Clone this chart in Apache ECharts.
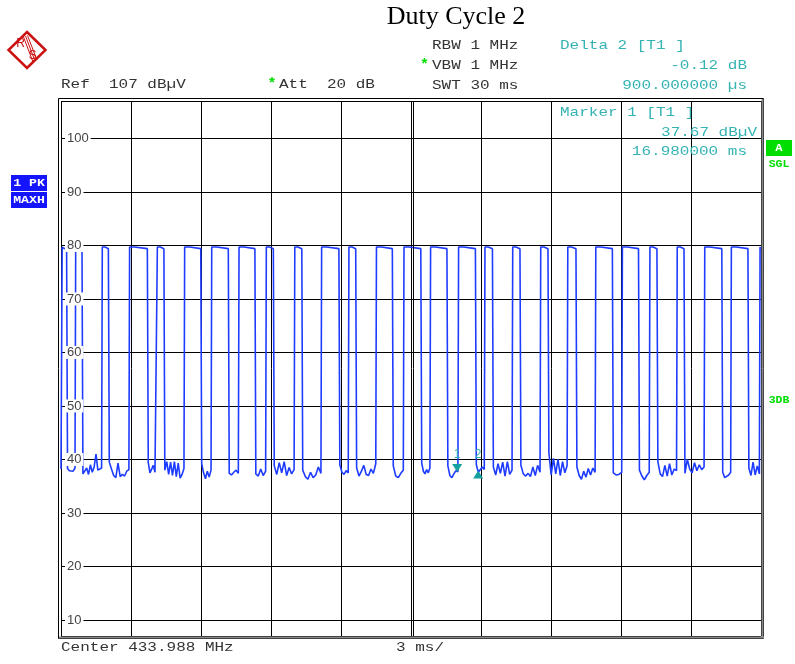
<!DOCTYPE html>
<html>
<head>
    <meta charset="UTF-8">
    <title>Duty Cycle 2</title>
    <script src="https://cdn.jsdelivr.net/npm/echarts@6/dist/echarts.min.js"></script>
    <style>
        html, body {
            margin: 0;
            padding: 0;
            background: #fff;
        }
        #chart {
            width: 795px;
            height: 664px;
        }
    </style>
</head>
<body>
<div id="chart"></div>
<script>
    // sweep 0..30 ms, 3 ms/div ; level axis 7..107 dBuV
    var sweepMs = [0, 30];
    var levelDb = [7, 107];

    // pulse edges (ms)
    var riseMs = [0.02, 0.60, 1.74, 2.91, 4.10, 5.27, 6.43, 7.60, 8.77, 9.99, 11.14, 12.31, 13.49,
        14.67, 15.81, 17.01, 18.14, 19.33, 20.53, 21.69, 22.89, 24.03, 25.21, 26.38, 27.56, 28.70, 29.93];
    var fallMs = [0.24, 0.90, 2.03, 3.70, 4.41, 5.99, 7.17, 8.31, 9.10, 10.32, 11.91, 12.63, 14.20,
        15.42, 16.54, 17.76, 18.49, 19.67, 20.87, 22.07, 23.63, 24.75, 25.54, 26.70, 28.32, 29.44, 30];
    // pulse top: level just after rising edge, then settled level
    var topLevels = [79.7, 79.4];
    var leadNoise = 38.2;
    // noise floor readings between pulse i and pulse i+1
    var gapNoise = [
        [38.3, 37.9, 38.2, 37.8, 38.4],
        [37.3, 37.0, 38.4, 37.2, 39.0, 37.6, 38.6, 41.0, 38.0, 38.2, 38.4],
        [39.5, 38.2, 37.0, 36.6, 39.3, 36.8, 37.2, 36.9, 37.8, 38.1],
        [39.4, 37.5, 37.8, 38.9, 37.6, 37.9],
        [38.0, 39.6, 37.2, 39.5, 37.0, 39.6, 36.8, 39.3, 36.5, 37.2, 38.3],
        [39.2, 37.5, 36.4, 37.8, 36.7, 38.0],
        [37.4, 37.1, 37.6, 38.0, 37.4],
        [37.3, 36.9, 38.2, 37.0, 37.8],
        [38.8, 37.2, 39.4, 37.5, 39.6, 37.0, 38.5, 37.3, 38.1],
        [38.0, 36.8, 36.3, 37.6, 36.6, 37.1, 38.6, 37.4],
        [39.0, 37.6, 37.2, 37.9, 37.5],
        [38.4, 36.9, 37.8, 38.9, 37.2, 37.0, 38.2, 37.4, 39.2],
        [38.8, 36.9, 36.6, 37.4, 38.0],
        [39.3, 37.8, 37.3, 38.1, 37.5, 38.4],
        [38.8, 37.0, 36.6, 37.3, 37.9, 37.7],
        [39.0, 37.6, 37.9, 38.6, 38.1],
        [38.6, 37.1, 39.2, 37.4, 39.5, 36.9, 39.6, 37.2, 38.0],
        [38.9, 37.3, 36.9, 37.4, 36.8, 38.6, 37.0, 38.9, 37.6],
        [41.2, 37.1, 40.2, 37.3, 40.0, 37.0, 39.6, 37.5, 38.8],
        [38.6, 37.0, 36.3, 37.8, 36.7, 38.3, 37.1, 38.4, 37.6],
        [37.5, 37.1, 37.2, 37.6],
        [38.0, 36.9, 36.2, 37.0, 37.6],
        [39.6, 37.3, 36.8, 38.9, 36.9, 39.2, 37.1, 38.2, 37.9],
        [37.4, 40.0, 38.2, 37.5, 39.4, 37.9, 39.0, 38.1, 38.6],
        [37.6, 36.6, 36.5, 37.1, 37.6],
        [38.4, 37.0, 39.5, 37.1, 38.8, 37.3]
    ];

    // markers: [ms, dBuV]
    var marker1 = [16.98, 37.67];
    var marker2 = [17.88, 37.55];

    // build the trace
    var trace = [[0, leadNoise]];
    for (var i = 0; i < riseMs.length; i++) {
        var r = riseMs[i], f = fallMs[i];
        var step = Math.min(r + 0.24, (r + f) / 2);
        trace.push([r + 0.03, topLevels[0]], [step, topLevels[0]], [step + 0.02, topLevels[1]], [f, topLevels[1]]);
        var g = gapNoise[i];
        if (g) {
            var t0 = f + 0.04, t1 = riseMs[i + 1];
            for (var k = 0; k < g.length; k++) {
                trace.push([t0 + k * (t1 - t0) / (g.length - 1), g[k]]);
            }
        }
    }

    var MONO = '"Liberation Mono", "DejaVu Sans Mono", monospace';
    var SANS = '"Liberation Sans", Arial, sans-serif';
    var GREY = '#333';
    var TEAL = '#35b3b3';
    var GREEN = '#00dd00';
    var BLUE = '#1414ff';
    var RS_RED = '#cc1111';

    function txt(x, y, s, color, o) {
        o = o || {};
        return {
            type: 'text', x: x, y: y, scaleX: o.sx || 1.23, z: 20,
            style: {
                text: s, fill: color,
                fontFamily: o.family || MONO, fontSize: o.size || 13, fontWeight: o.weight || 'normal',
                textAlign: o.align || 'left', align: o.align || 'left',
                textVerticalAlign: 'middle', verticalAlign: 'middle'
            }
        };
    }

    function box(x, y, w, h, color) {
        return {type: 'rect', z: 19, shape: {x: x, y: y, width: w, height: h}, style: {fill: color}};
    }

    var graphics = [
        // title
        txt(456, 17, 'Duty Cycle 2', '#000', {align: 'center', family: '"Liberation Serif", serif', size: 26, sx: 1}),
        // R&S logo
        {type: 'polygon', shape: {points: [[27, 32], [45.5, 50], [27, 68], [8.5, 50]]},
            style: {fill: 'none', stroke: RS_RED, lineWidth: 2.5}},
        {type: 'line', shape: {x1: 23.5, y1: 37, x2: 33, y2: 62}, style: {stroke: RS_RED, lineWidth: 1}},
        {type: 'line', shape: {x1: 25.5, y1: 36, x2: 35, y2: 61}, style: {stroke: RS_RED, lineWidth: 1}},
        {type: 'line', shape: {x1: 27.5, y1: 35.5, x2: 37, y2: 60}, style: {stroke: RS_RED, lineWidth: 1}},
        txt(20.5, 44, 'R', RS_RED, {align: 'center', family: SANS, size: 12, sx: 1}),
        txt(32.5, 56, 'S', RS_RED, {align: 'center', family: SANS, size: 12, sx: 1}),

        // header block
        txt(61, 85, 'Ref  107 dBµV', GREY),
        txt(272, 84, '*', GREEN, {align: 'center', size: 15, weight: 'bold', sx: 1}),
        txt(279, 85, 'Att  20 dB', GREY),
        txt(432, 46, 'RBW 1 MHz', GREY),
        txt(424.5, 65, '*', GREEN, {align: 'center', size: 15, weight: 'bold', sx: 1}),
        txt(432, 66, 'VBW 1 MHz', GREY),
        txt(432, 85.5, 'SWT 30 ms', GREY),
        txt(560, 46, 'Delta 2 [T1 ]', TEAL),
        txt(747, 66, '-0.12 dB', TEAL, {align: 'right'}),
        txt(747, 85.5, '900.000000 µs', TEAL, {align: 'right'}),

        // marker readout inside the screen
        txt(560, 113, 'Marker 1 [T1 ]', TEAL),
        txt(757, 132.5, '37.67 dBµV', TEAL, {align: 'right'}),
        txt(747, 151.5, '16.980000 ms', TEAL, {align: 'right'}),

        // side badges
        box(766, 140, 26, 16, GREEN),
        txt(779, 148, 'A', '#fff', {align: 'center', size: 11, weight: 'bold', sx: 1.1}),
        txt(779, 164, 'SGL', GREEN, {align: 'center', size: 10, weight: 'bold', sx: 1.15}),
        txt(779, 400, '3DB', GREEN, {align: 'center', size: 10, weight: 'bold', sx: 1.15}),
        box(11, 175, 36, 16, BLUE),
        txt(29, 183, '1 PK', '#fff', {align: 'center', size: 11, weight: 'bold', sx: 1.2}),
        box(11, 192, 36, 16, BLUE),
        txt(29, 200, 'MAXH', '#fff', {align: 'center', size: 11, weight: 'bold', sx: 1.2}),

        // footer
        txt(61, 648, 'Center 433.988 MHz', GREY),
        txt(396, 648, '3 ms/', GREY),

        // screen frame
        {type: 'rect', z: 15, shape: {x: 58.5, y: 98.5, width: 705, height: 540},
            style: {fill: 'none', stroke: '#000', lineWidth: 1}},
        {type: 'line', z: 15, shape: {x1: 762.5, y1: 99, x2: 762.5, y2: 638}, style: {stroke: '#888', lineWidth: 2}},
        {type: 'line', z: 15, shape: {x1: 59, y1: 637.5, x2: 764, y2: 637.5}, style: {stroke: '#888', lineWidth: 2}},
        {type: 'line', z: 15, shape: {x1: 413.5, y1: 101, x2: 413.5, y2: 636}, style: {stroke: '#000', lineWidth: 1}}
    ];

    var chart = echarts.init(document.getElementById('chart'), null, {renderer: 'canvas'});
    chart.setOption({
        animation: false,
        backgroundColor: '#fff',
        grid: {left: 61, top: 101, width: 700, height: 535},
        xAxis: {
            type: 'value', min: sweepMs[0], max: sweepMs[1], interval: 3,
            axisLine: {show: false}, axisTick: {show: false}, axisLabel: {show: false},
            splitLine: {show: true, lineStyle: {color: '#000', width: 1}}
        },
        yAxis: [{
            type: 'value', min: levelDb[0], max: levelDb[1], splitNumber: 10,
            axisLine: {show: false}, axisTick: {show: false}, axisLabel: {show: false},
            splitLine: {show: true, lineStyle: {color: '#000', width: 1}}
        }, {
            type: 'value', min: levelDb[0], max: levelDb[1], splitNumber: 10, position: 'left', z: 6,
            axisLine: {show: false}, axisTick: {show: false}, splitLine: {show: false},
            axisLabel: {
                inside: true, margin: 4, showMinLabel: false, showMaxLabel: false,
                color: '#444', fontSize: 13, fontFamily: SANS,
                backgroundColor: '#fff', padding: [0, 2, 0, 2]
            }
        }],
        series: [{
            type: 'line',
            data: trace,
            showSymbol: false,
            symbol: 'none',
            sampling: null,
            lineStyle: {color: '#1e3cff', width: 1.6},
            z: 3,
            markPoint: {
                silent: true,
                data: [{
                    coord: marker1, symbol: 'triangle', symbolRotate: 180, symbolSize: [10, 8],
                    symbolOffset: [0, -4], itemStyle: {color: '#159f9f'},
                    label: {show: true, formatter: '1', position: 'top', distance: 3, color: TEAL,
                        fontSize: 12, fontFamily: SANS}
                }, {
                    coord: marker2, symbol: 'triangle', symbolSize: [10, 8],
                    symbolOffset: [0, 2], itemStyle: {color: '#159f9f'},
                    label: {show: true, formatter: '2', position: 'top', distance: 10, color: TEAL,
                        fontSize: 12, fontFamily: SANS}
                }]
            }
        }],
        graphic: graphics
    });
</script>
</body>
</html>
